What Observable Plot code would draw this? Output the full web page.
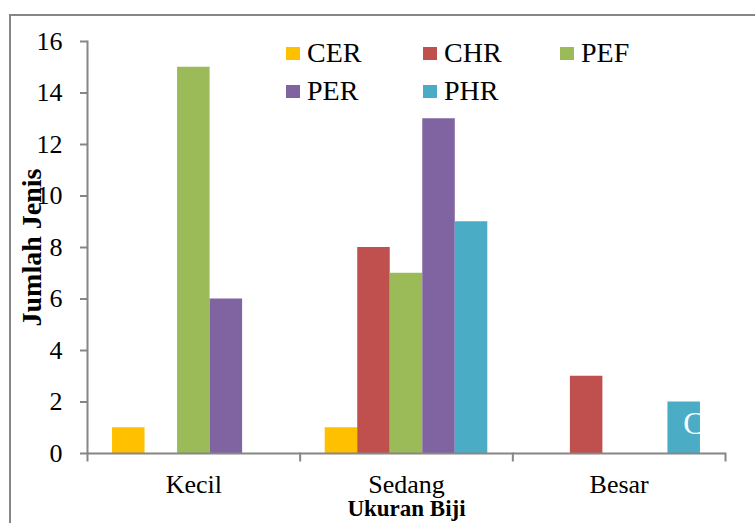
<!DOCTYPE html>
<html>
<head>
<meta charset="utf-8">
<script src="https://cdn.jsdelivr.net/npm/d3@7"></script>
<script src="https://cdn.jsdelivr.net/npm/@observablehq/plot@0.6"></script>
<style>
  html, body { margin: 0; padding: 0; background: #fff; }
  #wrap { position: relative; width: 755px; height: 523px; overflow: hidden; font-family: "Liberation Serif", "Times New Roman", serif; }
  #border { position: absolute; left: 9px; top: 14px; width: 900px; height: 700px; border-left: 2px solid #868686; border-top: 2px solid #868686; pointer-events: none; }
  #chart { position: absolute; left: 0; top: 0; }
  #legend { position: absolute; left: 286px; top: 34px; display: grid; grid-template-columns: 137px 137px 137px; grid-auto-rows: 38px; }
  .item { display: flex; align-items: center; font-size: 28px; color: #000; line-height: 1; font-family: "Liberation Serif", "Times New Roman", serif; }
  .sw { width: 14px; height: 13px; margin-right: 7px; flex: none; }
</style>
</head>
<body>
<div id="wrap">
  <div id="chart"></div>
  <div id="border"></div>
  <div id="legend"></div>
</div>
<script>
const categories = ["Kecil", "Sedang", "Besar"];
const series = ["CER", "CHR", "PEF", "PER", "PHR"];
const CER = [1, 1, 0];
const CHR = [0, 8, 3];
const PEF = [15, 7, 0];
const PER = [6, 13, 0];
const PHR = [0, 9, 2];
const colors = ["#FFC000", "#C0504D", "#9BBB59", "#8064A2", "#4BACC6"];
const yTicks = [0, 2, 4, 6, 8, 10, 12, 14, 16];
const xTitle = "Ukuran Biji";
const yTitle = "Jumlah Jenis";
// stray, partly hidden data label on the Besar / PHR bar
const strayLabel = {cat: "Besar", series: "PHR", text: "C"};

const values = {CER, CHR, PEF, PER, PHR};
const data = [];
categories.forEach((c, i) => series.forEach(s => data.push({cat: c, series: s, value: values[s][i]})));

const W = 755, H = 523, mt = 41, mb = 70, ml = 87, mr = 30;
const innerH = H - mt - mb;
const axisGray = "#868686";
const font = "Liberation Serif, Times New Roman, serif";

const chart = Plot.plot({
  width: W, height: H,
  marginTop: mt, marginBottom: mb, marginLeft: ml, marginRight: mr,
  style: {fontFamily: font, background: "transparent", color: "#000"},
  fx: {domain: categories, padding: 0, round: false},
  x: {domain: series, paddingInner: 0, paddingOuter: 0.77, round: false, axis: null},
  y: {domain: [0, 16]},
  color: {domain: series, range: colors},
  marks: [
    Plot.barY(data, {fx: "cat", x: "series", y: "value", fill: "series"}),
    Plot.text(data.filter(d => d.cat === strayLabel.cat && d.series === strayLabel.series), {
      fx: "cat", x: "series", y: "value", text: () => strayLabel.text,
      fill: "white", fontSize: 31, textAnchor: "start", dx: -1, dy: 22, fontFamily: font
    }),
    Plot.ruleY([0], {stroke: axisGray, strokeWidth: 2}),
    Plot.frame({anchor: "left", facetAnchor: "left", stroke: axisGray, strokeWidth: 2}),
    Plot.frame({anchor: "left", insetTop: innerH, insetBottom: -7, stroke: axisGray, strokeWidth: 2}),
    Plot.frame({anchor: "right", facetAnchor: "right", insetTop: innerH, insetBottom: -7, stroke: axisGray, strokeWidth: 2}),
    Plot.axisY({ticks: yTicks, tickSize: 7, tickPadding: 18, fontSize: 26, fontFamily: font, stroke: axisGray, strokeWidth: 2, fill: "#000", label: null, tickFormat: d => d}),
    Plot.axisFx({anchor: "bottom", tickSize: 0, tickPadding: 21, fontSize: 26, fontFamily: font, fill: "#000", label: null}),
    Plot.text([xTitle], {frameAnchor: "bottom", dy: 62, facet: "super", fontSize: 23, fontWeight: "bold", fill: "#000", fontFamily: font}),
    Plot.text([yTitle], {frameAnchor: "left", textAnchor: "middle", rotate: -90, dx: -55, facet: "super", fontSize: 28, fontWeight: "bold", fill: "#000", fontFamily: font})
  ]
});
document.getElementById("chart").appendChild(chart);

const legend = document.getElementById("legend");
series.forEach((s, i) => {
  const it = document.createElement("div");
  it.className = "item";
  const sw = document.createElement("span");
  sw.className = "sw";
  sw.style.background = colors[i];
  const t = document.createElement("span");
  t.textContent = s;
  it.appendChild(sw); it.appendChild(t);
  legend.appendChild(it);
});
</script>
</body>
</html>
